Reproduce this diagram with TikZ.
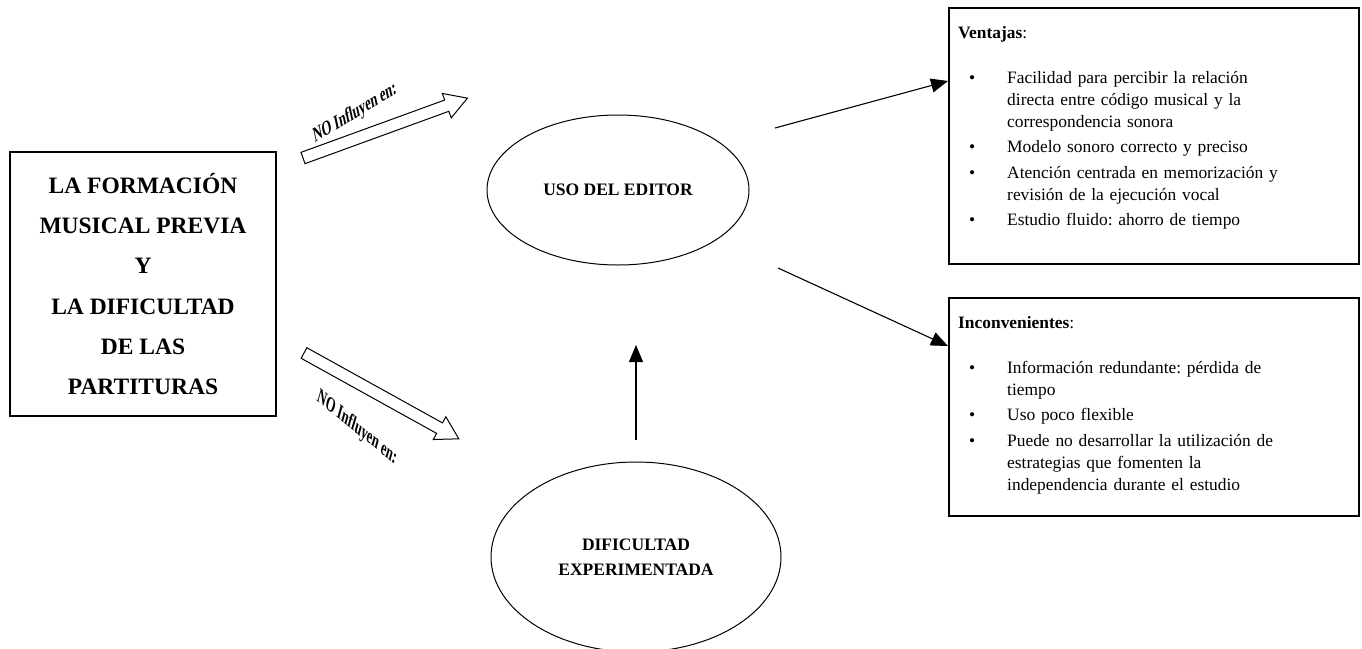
\documentclass[tikz,border=0pt]{standalone}
\usepackage{fontspec}
\setmainfont{Liberation Serif}
\usetikzlibrary{shapes.geometric,arrows.meta}

% one bulleted item: bullet, then text hanging past the bullet
\newcommand{\bitem}[1]{\par\noindent\hangindent=49pt\hangafter=1
  \makebox[49pt][l]{\hspace{11pt}\textbullet}#1\par\vspace{3.5pt}}
% line break inside an item that keeps the hanging indent
\newcommand{\nl}{\hfil\break}

\begin{document}
\frenchspacing
\begin{tikzpicture}[x=1pt,y=-1pt,
  every node/.style={inner sep=0pt},
  tip/.style={-{Triangle[length=17pt,width=14pt]}, line width=1.1pt},
  titlebox/.style={draw, line width=1.2pt, minimum width=266pt, minimum height=264pt},
  titletext/.style={align=center, font=\bfseries\fontsize{23.5}{40.2}\selectfont},
  oval/.style={draw, ellipse, line width=1pt, align=center},
  blockarrow/.style={draw, line width=1pt, fill=white, line join=miter},
  influence/.style={font=\bfseries\fontsize{21}{21}\selectfont, xscale=0.6},
  infobox/.style={draw, line width=1.5pt, anchor=north west},
  infotext/.style={anchor=north west, text width=395pt, font=\fontsize{17.4}{22}\selectfont}
]
\path[use as bounding box] (0,0) rectangle (1362,648);

% left block
\node[titlebox] (src) at (143,284) {};
\node[titletext] (srctext) at (143,284) {LA FORMACIÓN\\MUSICAL PREVIA\\Y\\LA DIFICULTAD\\DE LAS\\PARTITURAS};

% ovals
\node[oval, minimum width=262pt, minimum height=150pt,
  font=\bfseries\fontsize{17.5}{25}\selectfont] (uso) at (618,190) {USO DEL EDITOR};
\node[oval, minimum width=290pt, minimum height=190pt,
  font=\bfseries\fontsize{17.5}{25}\selectfont] (dif) at (636,557) {DIFICULTAD\\EXPERIMENTADA};

% hollow block arrows
\begin{scope}[shift={(303,158)}, rotate=20, y=1pt]
  \draw[blockarrow] (0,-6) -- (153,-6) -- (153,-13) -- (175,0) -- (153,13) -- (153,6) -- (0,6) -- cycle;
\end{scope}
\begin{scope}[shift={(304,353)}, rotate=-29, y=1pt]
  \draw[blockarrow] (0,-6) -- (155,-6) -- (155,-13) -- (177,0) -- (155,13) -- (155,6) -- (0,6) -- cycle;
\end{scope}
\node[influence, rotate=20] (l1) at (355,113) {NO Influyen en:};
\node[influence, rotate=-26] (l2) at (357,428) {NO Influyen en:};

% boxes on the right
\node[infobox, minimum width=410pt, minimum height=256pt] (vent) at (948,7) {};
\node[infotext] (venttext) at (958,26) {%
\textbf{Ventajas}:\par\vspace{23pt}
\bitem{Facilidad para percibir la relación\nl directa entre código musical y la\nl correspondencia sonora}
\bitem{Modelo sonoro correcto y preciso}
\bitem{Atención centrada en memorización y\nl revisión de la ejecución vocal}
\bitem{Estudio fluido: ahorro de tiempo}};

\node[infobox, minimum width=410pt, minimum height=218pt] (inc) at (948,297) {};
\node[infotext] (inctext) at (958,316) {%
\textbf{Inconvenientes}:\par\vspace{23pt}
\bitem{Información redundante: pérdida de\nl tiempo}
\bitem{Uso poco flexible}
\bitem{Puede no desarrollar la utilización de\nl estrategias que fomenten la\nl independencia durante el estudio}};

% connectors
\coordinate (usoR1) at (775,128);
\coordinate (usoR2) at (778,268);
\coordinate (difT) at ([yshift=22pt]dif.north);
\coordinate (usoB) at (636,345);
\draw[tip] (difT) -- (usoB);
\draw[tip] (usoR1) -- (vent.west |- 0,81);
\draw[tip] (usoR2) -- (inc.west |- 0,346);
\end{tikzpicture}
\end{document}
